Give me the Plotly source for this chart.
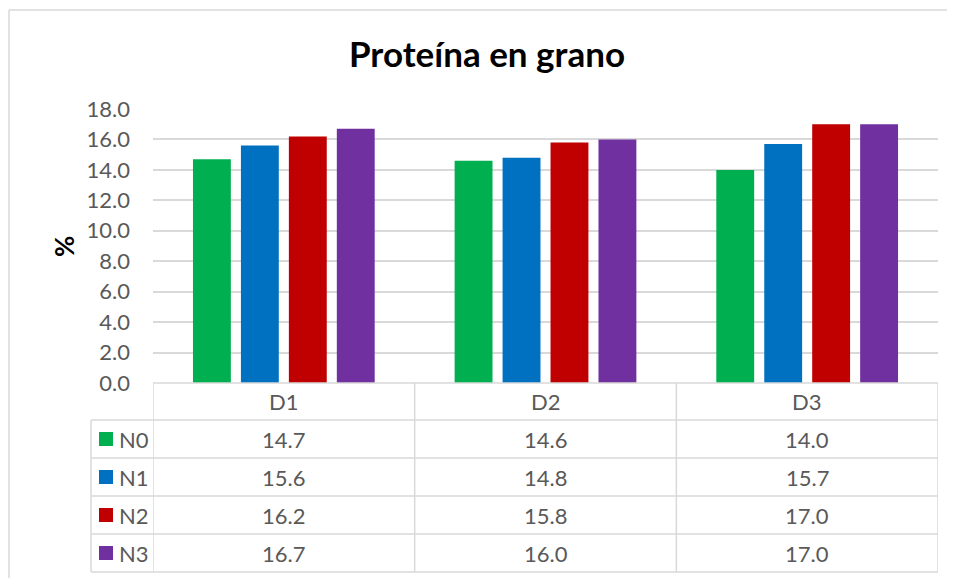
import plotly.graph_objects as go

categories = ["D1", "D2", "D3"]
series_names = ["N0", "N1", "N2", "N3"]
N0 = [14.7, 14.6, 14.0]
N1 = [15.6, 14.8, 15.7]
N2 = [16.2, 15.8, 17.0]
N3 = [16.7, 16.0, 17.0]
values = [N0, N1, N2, N3]
colors = ["#00B050", "#0070C0", "#C00000", "#7030A0"]
y_ticks = [0, 2, 4, 6, 8, 10, 12, 14, 16, 18]

# the page body has an 8px margin; lay out in window pixels
OFF = 8
WIN_W, WIN_H = 955, 578
W, H = WIN_W - OFF, WIN_H - OFF
PL, PR, PT, PB = 153, 938, 109, 383   # plot area in window pixels
L, R, T, B = PL - OFF, WIN_W - PR, PT - OFF, WIN_H - PB
pw = W - L - R
ph = H - T - B

def px_x(px):
    return (px - OFF - L) / pw

def px_y(py):
    return (H - B - (py - OFF)) / ph

FONT = "Lato, 'Open Sans', sans-serif"
GRID = "#d9d9d9"
TXT = "#595959"
FS = 22

fig = go.Figure()
for name, vals, col in zip(series_names, values, colors):
    fig.add_trace(go.Bar(x=list(range(len(categories))), y=vals, name=name,
                         marker=dict(color=col, line=dict(width=0))))

shapes = []
annotations = []

row_edges = [383, 420, 458, 496, 534, 572]
legend_left = 91
lw = 1.5

# outer chart border (left and top)
shapes.append(dict(type="line", xref="paper", yref="paper", x0=px_x(9), x1=px_x(9),
                   y0=px_y(10), y1=px_y(WIN_H + 5), line=dict(color=GRID, width=lw)))
shapes.append(dict(type="line", xref="paper", yref="paper", x0=px_x(9), x1=px_x(WIN_W + 5),
                   y0=px_y(10), y1=px_y(10), line=dict(color=GRID, width=lw)))

n = len(categories)
for i, ry in enumerate(row_edges):
    x0 = px_x(PL) if i == 0 else px_x(legend_left)
    shapes.append(dict(type="line", xref="paper", yref="paper", x0=x0, x1=1,
                       y0=px_y(ry), y1=px_y(ry), line=dict(color=GRID, width=lw)))
for k in range(n + 1):
    shapes.append(dict(type="line", xref="x", yref="paper", x0=k - 0.5, x1=k - 0.5,
                       y0=px_y(row_edges[0]), y1=px_y(row_edges[-1]),
                       line=dict(color=GRID, width=lw)))
shapes.append(dict(type="line", xref="paper", yref="paper", x0=px_x(legend_left), x1=px_x(legend_left),
                   y0=px_y(row_edges[1]), y1=px_y(row_edges[-1]), line=dict(color=GRID, width=lw)))

hy = px_y((row_edges[0] + row_edges[1]) / 2)
for k, c in enumerate(categories):
    annotations.append(dict(x=k, y=hy, xref="x", yref="paper", text=c, showarrow=False,
                            xanchor="center", yanchor="middle",
                            font=dict(family=FONT, size=FS, color=TXT)))
for r, (name, vals, col) in enumerate(zip(series_names, values, colors)):
    cy = (row_edges[r + 1] + row_edges[r + 2]) / 2
    for k, v in enumerate(vals):
        annotations.append(dict(x=k, y=px_y(cy), xref="x", yref="paper", text=f"{v:.1f}",
                                showarrow=False, xanchor="center", yanchor="middle",
                                font=dict(family=FONT, size=FS, color=TXT)))
    shapes.append(dict(type="rect", xref="paper", yref="paper", x0=px_x(99), x1=px_x(113),
                       y0=px_y(cy - 7), y1=px_y(cy + 7), fillcolor=col, line=dict(width=0)))
    annotations.append(dict(x=px_x(117), y=px_y(cy), xref="paper", yref="paper", text=name,
                            xanchor="left", yanchor="middle", showarrow=False,
                            font=dict(family=FONT, size=FS, color=TXT)))

annotations.append(dict(x=px_x(64), y=px_y(247), xref="paper", yref="paper", text="<b>%</b>",
                        textangle=-90, showarrow=False, xanchor="center", yanchor="middle",
                        font=dict(family=FONT, size=26, color="#000000")))

fig.update_layout(
    width=W, height=H,
    margin=dict(l=L, r=R, t=T, b=B),
    paper_bgcolor="white", plot_bgcolor="white",
    title=dict(text="<b>Proteína en grano</b>", x=(487 - OFF) / W, xanchor="center",
               y=1 - (55 - OFF) / H, yanchor="middle",
               font=dict(family=FONT, size=35, color="#000000")),
    barmode="group", bargap=0.267, bargroupgap=0.21,
    showlegend=False,
    xaxis=dict(range=[-0.5, n - 0.5], showticklabels=False, showgrid=False, zeroline=False,
               showline=False, fixedrange=True),
    yaxis=dict(range=[0, 18], tickvals=y_ticks, ticktext=[f"{t:.1f}" for t in y_ticks],
               showgrid=True, gridcolor=GRID, gridwidth=lw, zeroline=False, showline=False,
               ticks="", ticklabelstandoff=22,
               tickfont=dict(family=FONT, size=FS, color=TXT)),
    shapes=shapes, annotations=annotations,
)

fig.write_html("out.html")
